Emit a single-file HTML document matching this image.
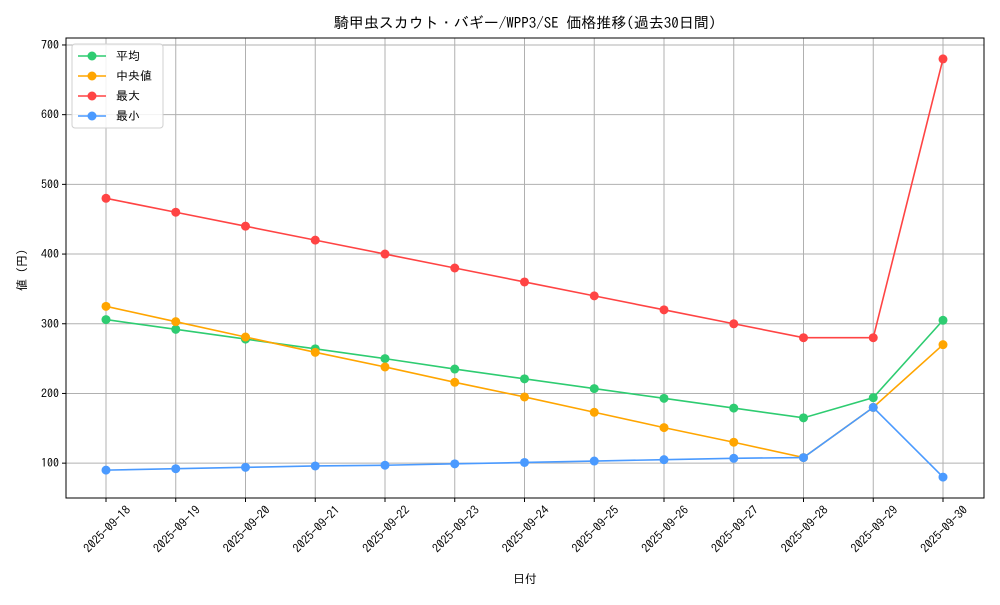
<!DOCTYPE html>
<html><head><meta charset="utf-8"><style>
body{margin:0;background:#fff}
svg text{font-family:"IPAGothic","Liberation Sans","Noto Sans CJK JP",sans-serif;fill:#000}
</style></head><body>
<svg id="chart" width="1000" height="600" xmlns="http://www.w3.org/2000/svg">
<rect width="1000" height="600" fill="#fff"/>
<text x="525" y="28" font-size="15" text-anchor="middle">騎甲虫スカウト・バギー/WPP3/SE 価格推移(過去30日間)</text>
<g id="grid"></g><g id="axes"></g><g id="series"></g>
<rect x="66" y="38" width="918" height="460" fill="none" stroke="#000" stroke-width="1"/>
<text x="525" y="583" font-size="12" text-anchor="middle">日付</text>
<text transform="translate(26,270) rotate(-90)" font-size="12" text-anchor="middle">値 (円)</text>
<g id="legend"></g>
</svg>
<script>
const dates=["2025-09-18","2025-09-19","2025-09-20","2025-09-21","2025-09-22","2025-09-23","2025-09-24","2025-09-25","2025-09-26","2025-09-27","2025-09-28","2025-09-29","2025-09-30"];
const avgValues=[306,292,278,264,250,235,221,207,193,179,165,194,305];
const medianValues=[325,303,281,259,238,216,195,173,151,130,108,180,270];
const maxValues=[480,460,440,420,400,380,360,340,320,300,280,280,680];
const minValues=[90,92,94,96,97,99,101,103,105,107,108,180,80];
const yTicks=[100,200,300,400,500,600,700];
const seriesNames=["平均","中央値","最大","最小"];
const NS="http://www.w3.org/2000/svg";
const L=66,R=984,T=38,B=498,yMin=50,yMax=710;
function xPos(i){return 106+i*(943-106)/(dates.length-1);}
function yPos(v){return B-(v-yMin)/(yMax-yMin)*(B-T);}
function mk(tag,attrs,parent){const e=document.createElementNS(NS,tag);for(const k in attrs)e.setAttribute(k,attrs[k]);parent.appendChild(e);return e;}
const grid=document.getElementById('grid'),axes=document.getElementById('axes'),ser=document.getElementById('series'),leg=document.getElementById('legend');
dates.forEach((d,i)=>{
 const x=xPos(i);
 const g=mk('line',{x1:x,x2:x,y1:T,y2:B,stroke:'#b0b0b0','stroke-width':1},grid);
 
 
 const t=mk('line',{x1:x,x2:x,y1:B,y2:B+4,stroke:'#000'},axes);
 
 
 const tx=mk('text',{transform:`translate(${x+4},${B+34}) rotate(-45)`,'font-size':12,'text-anchor':'middle'},axes);
 tx.textContent=d;
 
 
});
yTicks.forEach(v=>{
 const y=yPos(v);
 const g=mk('line',{x1:L,x2:R,y1:y,y2:y,stroke:'#b0b0b0','stroke-width':1},grid);
 
 
 const t=mk('line',{x1:L-4,x2:L,y1:y,y2:y,stroke:'#000'},axes);
 
 
 const tx=mk('text',{x:L-7,y:y+4,'font-size':12,'text-anchor':'end'},axes);
 tx.textContent=v;
 
 
});
const seriesData=[avgValues,medianValues,maxValues,minValues];
const colors=["#2ecc71","#ffa500","#ff4444","#4a9aff"];
const ids=["avg","median","max","min"];
seriesData.forEach((vals,s)=>{
 const pts=vals.map((v,i)=>xPos(i)+','+yPos(v)).join(' ');
 const pl=mk('polyline',{points:pts,fill:'none',stroke:colors[s],'stroke-width':1.6},ser);
 
 
 vals.forEach((v,i)=>{
  const c=mk('circle',{cx:xPos(i),cy:yPos(v),r:4.5,fill:colors[s]},ser);
  
  
 });
});
const box=mk('rect',{x:72,y:44,width:91,height:84,fill:'#fff','fill-opacity':0.85,stroke:'#d0d0d0',rx:3},leg);


seriesNames.forEach((n,s)=>{
 const y=56+s*20;
 const g=mk('g',{},leg);
 
 
 mk('line',{x1:78,x2:106,y1:y,y2:y,stroke:colors[s],'stroke-width':1.6},g);
 mk('circle',{cx:92,cy:y,r:4.5,fill:colors[s]},g);
 const t=mk('text',{x:116,y:y+4,'font-size':12},g);
 t.textContent=n;
});
</script>
</body></html>
